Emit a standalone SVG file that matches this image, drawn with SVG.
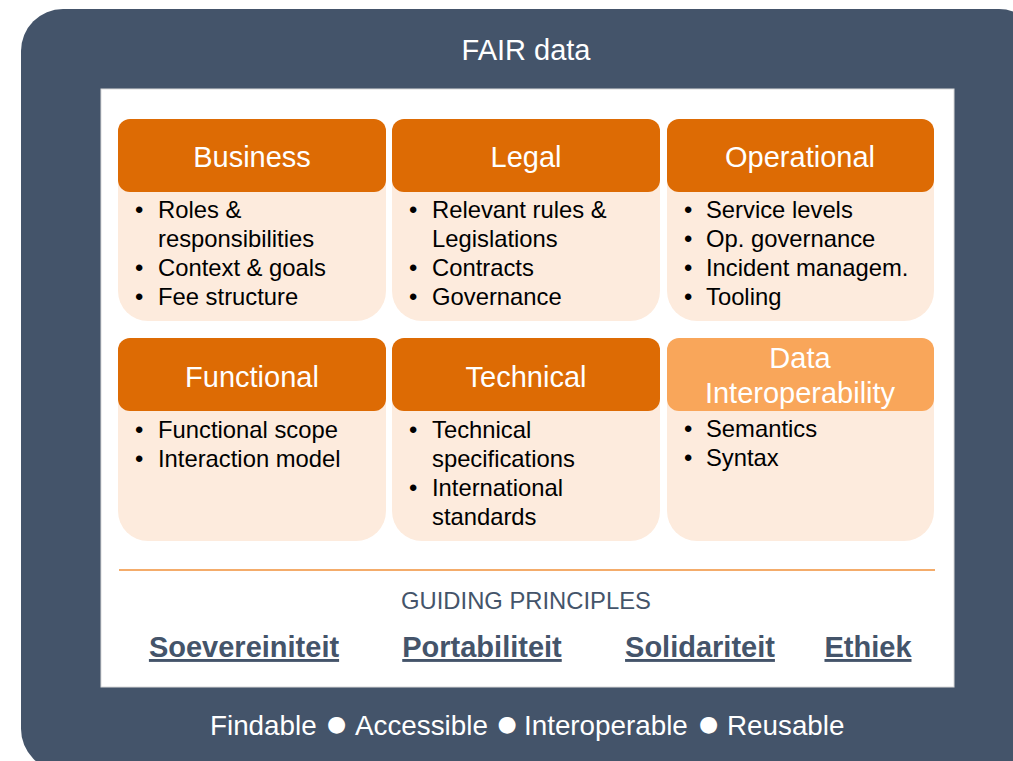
<svg xmlns="http://www.w3.org/2000/svg" width="1013" height="761" viewBox="0 0 1013 761">
<style>
text{font-family:"Liberation Sans",Arial,sans-serif}
.frame{fill:#44546A}
.hdr{fill:#DD6B04}
.hdr2{fill:#F9A65A}
.body{fill:#FDEBDD}
.ht{fill:#FFFFFF;font-size:29px;text-anchor:middle}
.bt{fill:#000000;font-size:23.8px}
.wt{fill:#FFFFFF;font-size:29px;text-anchor:middle}
.ws{fill:#FFFFFF;font-size:27.8px}
.dot{fill:#FFFFFF;font-size:22px;font-family:"DejaVu Sans",sans-serif;text-anchor:middle}
.gp{fill:#44546A;font-size:23.8px;text-anchor:middle}
.pr{fill:#44546A;font-size:29px;font-weight:bold;text-anchor:middle;text-decoration:underline}
</style>
<rect width="1013" height="761" fill="#FFFFFF"/>
<g id="frame">
<rect class="frame" x="21" y="9" width="1020" height="762" rx="42" ry="42"/>
<text class="wt" x="526" y="60">FAIR data</text>
<rect x="101" y="89" width="853" height="598" fill="#FFFFFF" stroke="#D9D9D9" stroke-width="1"/>
<text class="ws" x="210" y="735">Findable</text>
<text class="dot" x="336.5" y="731">●</text>
<text class="ws" x="355" y="735">Accessible</text>
<text class="dot" x="507" y="731">●</text>
<text class="ws" x="524" y="735">Interoperable</text>
<text class="dot" x="708.5" y="731">●</text>
<text class="ws" x="727" y="735">Reusable</text>
</g>
<g id="business">
<rect class="body" x="118" y="119" width="268" height="202" rx="30" ry="30"/>
<rect class="hdr" x="118" y="119" width="268" height="73" rx="12" ry="12"/>
<text class="ht" x="252" y="167">Business</text>
<text class="bt" x="135" y="218">•</text><text class="bt" x="158" y="218">Roles &amp;</text>
<text class="bt" x="158" y="247">responsibilities</text>
<text class="bt" x="135" y="276">•</text><text class="bt" x="158" y="276">Context &amp; goals</text>
<text class="bt" x="135" y="305">•</text><text class="bt" x="158" y="305">Fee structure</text>
</g>
<g id="legal">
<rect class="body" x="392" y="119" width="268" height="202" rx="30" ry="30"/>
<rect class="hdr" x="392" y="119" width="268" height="73" rx="12" ry="12"/>
<text class="ht" x="526" y="167">Legal</text>
<text class="bt" x="409" y="218">•</text><text class="bt" x="432" y="218">Relevant rules &amp;</text>
<text class="bt" x="432" y="247">Legislations</text>
<text class="bt" x="409" y="276">•</text><text class="bt" x="432" y="276">Contracts</text>
<text class="bt" x="409" y="305">•</text><text class="bt" x="432" y="305">Governance</text>
</g>
<g id="operational">
<rect class="body" x="667" y="119" width="267" height="202" rx="30" ry="30"/>
<rect class="hdr" x="667" y="119" width="267" height="73" rx="12" ry="12"/>
<text class="ht" x="800" y="167">Operational</text>
<text class="bt" x="684" y="218">•</text><text class="bt" x="706" y="218">Service levels</text>
<text class="bt" x="684" y="247">•</text><text class="bt" x="706" y="247">Op. governance</text>
<text class="bt" x="684" y="276">•</text><text class="bt" x="706" y="276">Incident managem.</text>
<text class="bt" x="684" y="305">•</text><text class="bt" x="706" y="305">Tooling</text>
</g>
<g id="functional">
<rect class="body" x="118" y="338" width="268" height="203" rx="30" ry="30"/>
<rect class="hdr" x="118" y="338" width="268" height="73" rx="12" ry="12"/>
<text class="ht" x="252" y="387">Functional</text>
<text class="bt" x="135" y="438">•</text><text class="bt" x="158" y="438">Functional scope</text>
<text class="bt" x="135" y="467">•</text><text class="bt" x="158" y="467">Interaction model</text>
</g>
<g id="technical">
<rect class="body" x="392" y="338" width="268" height="203" rx="30" ry="30"/>
<rect class="hdr" x="392" y="338" width="268" height="73" rx="12" ry="12"/>
<text class="ht" x="526" y="387">Technical</text>
<text class="bt" x="409" y="438">•</text><text class="bt" x="432" y="438">Technical</text>
<text class="bt" x="432" y="467">specifications</text>
<text class="bt" x="409" y="496">•</text><text class="bt" x="432" y="496">International</text>
<text class="bt" x="432" y="525">standards</text>
</g>
<g id="data-interoperability">
<rect class="body" x="667" y="338" width="267" height="203" rx="30" ry="30"/>
<rect class="hdr2" x="667" y="338" width="267" height="73" rx="12" ry="12"/>
<text class="ht" x="800" y="368">Data</text>
<text class="ht" x="800" y="403">Interoperability</text>
<text class="bt" x="684" y="437">•</text><text class="bt" x="706" y="437">Semantics</text>
<text class="bt" x="684" y="466">•</text><text class="bt" x="706" y="466">Syntax</text>
</g>
<g id="guiding-principles">
<line x1="119" y1="570" x2="935" y2="570" stroke="#F0913A" stroke-width="1.5"/>
<text class="gp" x="526" y="609">GUIDING PRINCIPLES</text>
<text class="pr" x="244" y="657">Soevereiniteit</text>
<text class="pr" x="482" y="657">Portabiliteit</text>
<text class="pr" x="700" y="657">Solidariteit</text>
<text class="pr" x="868" y="657">Ethiek</text>
</g>
<g id="connectors"/>
</svg>
